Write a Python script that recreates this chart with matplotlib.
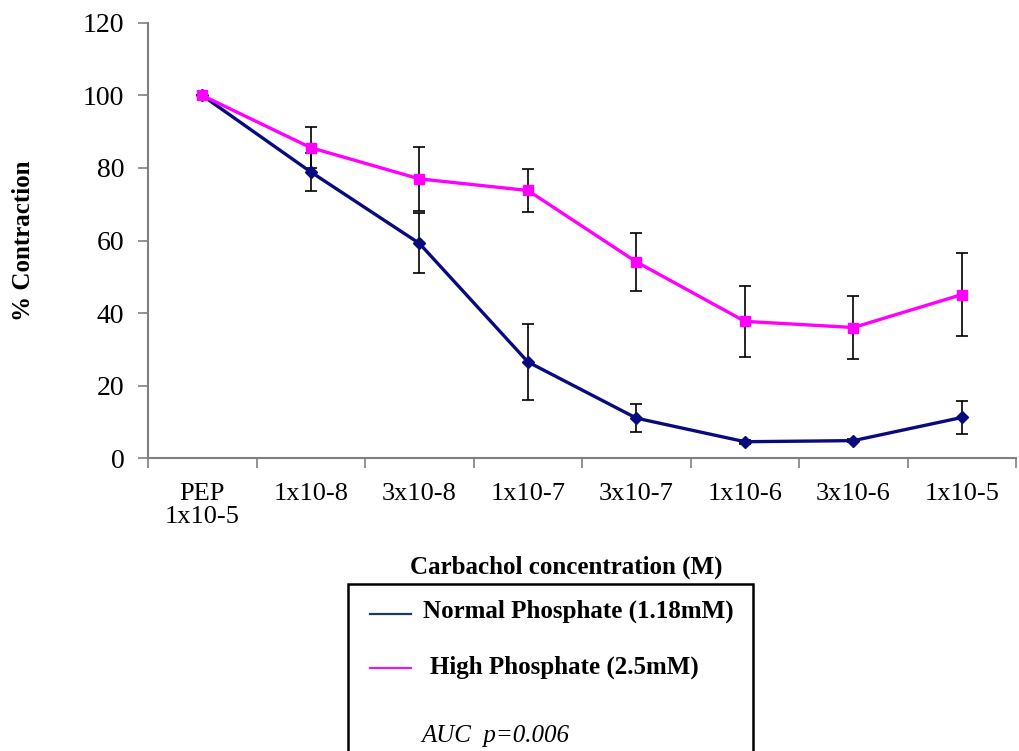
import matplotlib
matplotlib.use("Agg")
import matplotlib.pyplot as plt
from matplotlib.lines import Line2D
from matplotlib.patches import Rectangle

# data
concentrations = ["PEP\n1x10-5", "1x10-8", "3x10-8", "1x10-7",
                  "3x10-7", "1x10-6", "3x10-6", "1x10-5"]
normal_mean = [100, 78.9, 59.2, 26.5, 11.0, 4.5, 4.8, 11.2]
normal_err = [0, 5.2, 8.3, 10.6, 3.9, 0.5, 0.4, 4.6]
high_mean = [100, 85.6, 77.0, 73.8, 54.1, 37.7, 36.0, 45.1]
high_err = [0, 5.6, 8.8, 6.0, 8.1, 9.7, 8.7, 11.4]

NAVY = "#0a0a80"
MAGENTA = "#ff00ff"
GRAY = "#808080"
serif = ["Liberation Serif", "DejaVu Serif"]
plt.rcParams["font.family"] = serif

fig = plt.figure(figsize=(10.19, 7.51), dpi=100)
ax = fig.add_axes([0.1453, 0.3901, 0.852, 0.5793])

x = list(range(len(concentrations)))

# error bars underneath the lines
ax.errorbar(x, normal_mean, yerr=normal_err, fmt="none", ecolor="black",
            elinewidth=1.2, capsize=4, capthick=1.2, zorder=2)
ax.errorbar(x, high_mean, yerr=high_err, fmt="none", ecolor="black",
            elinewidth=1.2, capsize=4, capthick=1.2, zorder=2)

ax.plot(x, normal_mean, color=NAVY, lw=2.4, marker="D", markersize=6,
        zorder=3)
ax.plot(x, high_mean, color=MAGENTA, lw=2.4, marker="s", markersize=7,
        zorder=4)

ax.set_xlim(-0.5, len(concentrations) - 0.5)
ax.set_ylim(0, 120)
ax.set_yticks(range(0, 121, 20))

# ticks at category boundaries, labels at category centres
ax.set_xticks([i + 0.5 for i in range(-1, len(concentrations))])
ax.set_xticklabels([])
ax.set_xticks(x, minor=True)
ax.set_xticklabels(concentrations, minor=True, fontsize=19, va="top",
                   linespacing=1.05)
ax.tick_params(axis="x", which="major", direction="out", length=7,
               width=1.2, color=GRAY)
ax.tick_params(axis="x", which="minor", length=0, pad=18)
ax.tick_params(axis="y", direction="out", length=7, width=1.2, color=GRAY,
               labelsize=20, pad=10)

for side in ["top", "right"]:
    ax.spines[side].set_visible(False)
for side in ["left", "bottom"]:
    ax.spines[side].set_color(GRAY)
    ax.spines[side].set_linewidth(1.5)

ax.set_ylabel("% Contraction", fontsize=18, fontweight="bold")
ax.yaxis.set_label_coords(-0.13, 0.5)
fig.text(0.556, 0.245, "Carbachol concentration (M)", ha="center",
         va="center", fontsize=18, fontweight="bold")

# legend box drawn by hand (it runs off the bottom of the figure)
fig.add_artist(Rectangle((348 / 1019, -0.02), (753 - 348) / 1019,
                         1 - 584 / 751 + 0.02, transform=fig.transFigure,
                         facecolor="white", edgecolor="black", lw=1.8))
fig.add_artist(Line2D([370 / 1019, 411 / 1019], [1 - 614 / 751] * 2,
                      transform=fig.transFigure, color="#1f3a5f", lw=1.6))
fig.text(423 / 1019, 1 - 611 / 751, "Normal Phosphate (1.18mM)",
         ha="left", va="center", fontsize=18, fontweight="bold")
fig.add_artist(Line2D([370 / 1019, 411 / 1019], [1 - 668 / 751] * 2,
                      transform=fig.transFigure, color="#e020e0", lw=1.6))
fig.text(430 / 1019, 1 - 667 / 751, "High Phosphate (2.5mM)",
         ha="left", va="center", fontsize=18, fontweight="bold")
fig.text(421 / 1019, 1 - 736 / 751, "AUC  p=0.006", ha="left",
         va="center", fontsize=18, fontstyle="italic")

fig.savefig("out.png", dpi=100)
